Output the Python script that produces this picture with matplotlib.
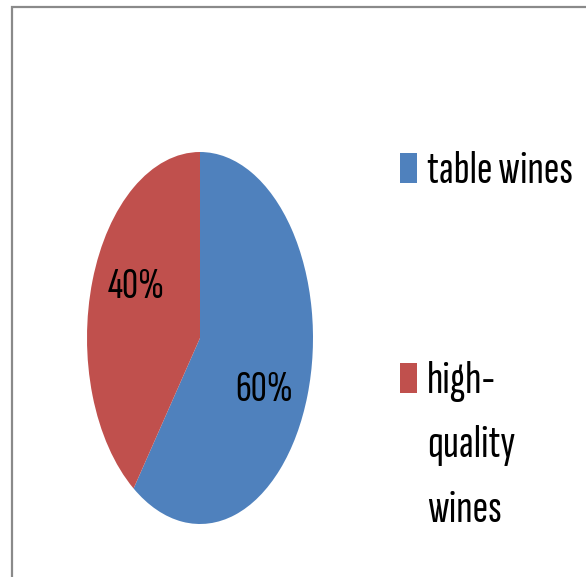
import matplotlib
matplotlib.use("Agg")
import matplotlib.pyplot as plt
import numpy as np
from matplotlib.patches import Rectangle

# wine share
labels = ["table wines", "high-\nquality\nwines"]
shares = [60, 40]
colors = ["#4F81BD", "#C0504D"]

FONT = ["Sofia Sans Extra Condensed", "Carlito", "DejaVu Sans"]
W, H = 586, 577

fig = plt.figure(figsize=(W / 100, H / 100), dpi=100)

# chart area frame (only top/left edges fall inside the canvas)
fig.patches.append(Rectangle((12 / W, -0.5), 2.0, 1.5 - 6.5 / H, transform=fig.transFigure,
                             fill=False, edgecolor="#8a8a8a", linewidth=1.6))

# pie in a stretched axes -> elliptical
ax = fig.add_axes([87 / W, (H - 524) / H, 226 / W, 372 / H])
wedges, _, autotexts = ax.pie(
    shares, colors=colors, startangle=90, counterclock=False,
    autopct="%1.0f%%", pctdistance=0.63, radius=1.0,
    wedgeprops=dict(linewidth=0),
    textprops=dict(fontsize=32, family=FONT, color="black"),
)
ax.set_aspect("auto")
ax.set_xlim(-1, 1)
ax.set_ylim(-1, 1)
ax.axis("off")

# turn the percentage labels a little clockwise
rot = np.deg2rad(-8)
for t in autotexts:
    x, y = t.get_position()
    t.set_position((x * np.cos(rot) - y * np.sin(rot), x * np.sin(rot) + y * np.cos(rot)))

# legend drawn by hand so the swatch sits on the first line of each label
legend_base = [183, 393]  # baseline of first text line, px from top
line_step = 64.5
for lab, col, base in zip(labels, colors, legend_base):
    fig.patches.append(Rectangle((400 / W, (H - base) / H), 17 / W, 30 / H,
                                 transform=fig.transFigure, facecolor=col,
                                 edgecolor="none"))
    for i, line in enumerate(lab.split("\n")):
        fig.text(427 / W, (H - base - i * line_step) / H, line, fontsize=34,
                 family=FONT, va="baseline", ha="left")

fig.savefig("out.png", dpi=100)
